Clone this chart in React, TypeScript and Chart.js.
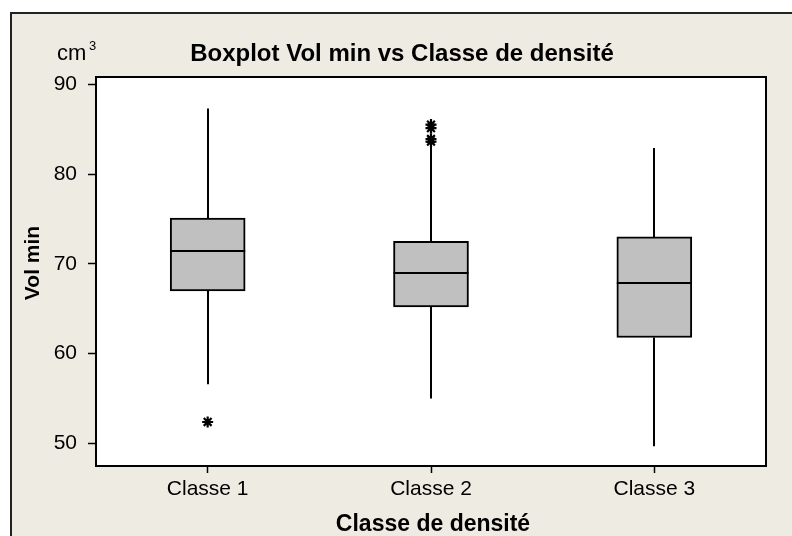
import React, { useEffect, useRef } from 'react';
import { Chart, registerables } from 'chart.js';

Chart.register(...registerables);

const categories = ['Classe 1', 'Classe 2', 'Classe 3'];
const whiskerLow = [56.6, 55.0, 49.7];
const q1 = [67.0, 65.2, 61.8];
const median = [71.4, 69.0, 67.9];
const q3 = [75.1, 72.5, 73.0];
const whiskerHigh = [87.3, 83.2, 82.9];
const outlierCategory = ['Classe 1', 'Classe 2', 'Classe 2', 'Classe 2', 'Classe 2'];
const outlierValue = [52.4, 85.5, 85.1, 83.9, 83.6];
const yTicks = [50, 60, 70, 80, 90];
const yMin = 47.5;
const yMax = 90.8;

const TITLE = 'Boxplot Vol min vs Classe de densité';
const X_TITLE = 'Classe de densité';
const Y_TITLE = 'Vol min';
const UNIT = 'cm';
const UNIT_SUP = '3';

const FONT = '"Liberation Sans", Arial, sans-serif';
const BG = '#EEEBE2';

const boxPlugin = {
  id: 'boxExtras',
  beforeDraw(chart: any) {
    const { ctx, chartArea: a } = chart;
    ctx.save();
    ctx.fillStyle = '#ffffff';
    ctx.fillRect(0, 0, chart.width, chart.height);
    ctx.fillStyle = BG;
    ctx.fillRect(10, 12, chart.width, chart.height);
    ctx.strokeStyle = '#222222';
    ctx.lineWidth = 2;
    ctx.strokeRect(11, 13, chart.width + 20, chart.height + 20);
    ctx.fillStyle = '#ffffff';
    ctx.fillRect(a.left, a.top, a.right - a.left, a.bottom - a.top);
    ctx.restore();
  },
  afterDatasetsDraw(chart: any) {
    const { ctx } = chart;
    const y = chart.scales.y;
    const meta = chart.getDatasetMeta(0);
    ctx.save();
    ctx.strokeStyle = '#000000';
    ctx.lineWidth = 2;
    meta.data.forEach((bar: any, i: number) => {
      const x = Math.round(bar.x);
      const half = bar.width / 2;
      ctx.beginPath();
      ctx.moveTo(x, y.getPixelForValue(q3[i]));
      ctx.lineTo(x, y.getPixelForValue(whiskerHigh[i]));
      ctx.moveTo(x, y.getPixelForValue(q1[i]));
      ctx.lineTo(x, y.getPixelForValue(whiskerLow[i]));
      ctx.stroke();
      const my = Math.round(y.getPixelForValue(median[i]));
      ctx.beginPath();
      ctx.moveTo(bar.x - half, my);
      ctx.lineTo(bar.x + half, my);
      ctx.stroke();
    });
    ctx.restore();
  },
  afterDraw(chart: any) {
    const { ctx, chartArea: a } = chart;
    ctx.save();
    ctx.strokeStyle = '#000000';
    ctx.lineWidth = 2;
    ctx.strokeRect(a.left, a.top, a.right - a.left, a.bottom - a.top);

    ctx.fillStyle = '#000000';
    ctx.textBaseline = 'alphabetic';
    ctx.textAlign = 'center';
    ctx.font = `bold 24px ${FONT}`;
    ctx.fillText(TITLE, 402, 61);

    ctx.textAlign = 'left';
    ctx.font = `22px ${FONT}`;
    ctx.fillText(UNIT, 57, 60);
    ctx.font = `13px ${FONT}`;
    ctx.fillText(UNIT_SUP, 89, 50);

    ctx.textAlign = 'center';
    ctx.textBaseline = 'middle';
    ctx.font = `bold 23px ${FONT}`;
    ctx.fillText(X_TITLE, 433, 525);

    ctx.save();
    ctx.translate(33, 263);
    ctx.rotate(-Math.PI / 2);
    ctx.font = `bold 21px ${FONT}`;
    ctx.fillText(Y_TITLE, 0, 0);
    ctx.restore();
    ctx.restore();
  },
};

export default function App() {
  const ref = useRef<HTMLCanvasElement>(null);
  useEffect(() => {
    if (!ref.current) return;
    const chart = new Chart(ref.current, {
      type: 'bar',
      data: {
        labels: categories,
        datasets: [
          {
            type: 'bar',
            label: 'box',
            data: categories.map((_, i) => [q1[i], q3[i]]) as any,
            backgroundColor: '#C0C0C0',
            borderColor: '#000000',
            borderWidth: 2,
            borderSkipped: false,
            barThickness: 75,
            grouped: false,
            order: 2,
          } as any,
          {
            type: 'line',
            label: 'outliers',
            data: outlierCategory.map((c, i) => ({ x: c, y: outlierValue[i] })) as any,
            showLine: false,
            pointStyle: 'star',
            pointRadius: 5.5,
            pointBorderWidth: 2.2,
            pointBorderColor: '#000000',
            pointBackgroundColor: '#000000',
            borderColor: '#000000',
            order: 1,
          } as any,
        ],
      },
      options: {
        responsive: false,
        animation: false,
        devicePixelRatio: 1,
        layout: { padding: { left: 0, right: 26, top: 77, bottom: 0 } },
        plugins: {
          legend: { display: false },
          title: { display: false },
          tooltip: { enabled: false },
        },
        scales: {
          x: {
            type: 'category',
            offset: true,
            grid: {
              offset: false,
              drawOnChartArea: false,
              drawTicks: true,
              tickLength: 7,
              tickColor: '#000000',
              tickWidth: 1.5,
            },
            border: { display: false },
            ticks: {
              color: '#000000',
              font: { family: FONT, size: 21 },
              padding: 4,
              maxRotation: 0,
            },
            afterFit(scale: any) {
              scale.height = 70;
            },
          },
          y: {
            type: 'linear',
            min: yMin,
            max: yMax,
            grid: {
              drawOnChartArea: false,
              drawTicks: true,
              tickLength: 8,
              tickColor: '#000000',
              tickWidth: 1.5,
            },
            border: { display: false },
            ticks: {
              color: '#000000',
              font: { family: FONT, size: 21 },
              padding: 11,
            },
            afterBuildTicks(scale: any) {
              scale.ticks = yTicks.map((v) => ({ value: v }));
            },
            afterFit(scale: any) {
              scale.width = 96;
            },
          },
        },
      },
      plugins: [boxPlugin],
    } as any);
    return () => chart.destroy();
  }, []);
  return (
    <div style={{ position: 'fixed', left: 0, top: 0, width: 792, height: 536, background: '#fff' }}>
      <canvas ref={ref} width={792} height={536} style={{ display: 'block', width: 792, height: 536 }} />
    </div>
  );
}
